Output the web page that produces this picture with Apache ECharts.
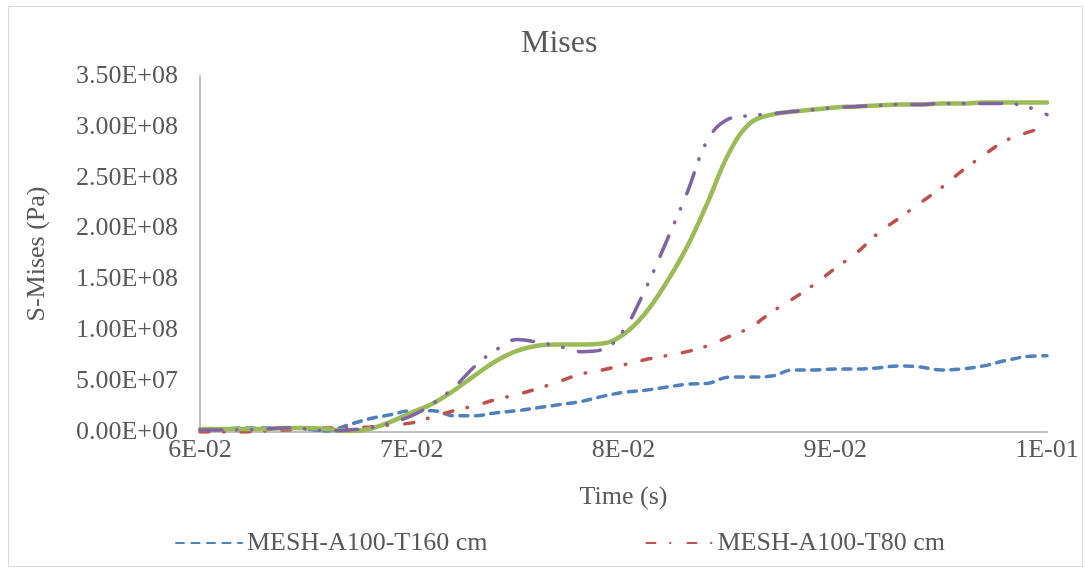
<!DOCTYPE html>
<html>
<head>
<meta charset="utf-8">
<script src="https://cdn.jsdelivr.net/npm/echarts@6/dist/echarts.min.js"></script>
<style>
  html, body { margin: 0; padding: 0; background: #ffffff; }
  #chart { width: 1085px; height: 569px; }
</style>
</head>
<body>
<div id="chart"></div>
<script>
// Time samples (s)
const times = [
  0.060, 0.061, 0.062, 0.063, 0.064, 0.065, 0.066, 0.067, 0.068, 0.069,
  0.070, 0.071, 0.072, 0.073, 0.074, 0.075, 0.076, 0.077, 0.078, 0.079,
  0.080, 0.081, 0.082, 0.083, 0.084, 0.085, 0.086, 0.087, 0.088, 0.089,
  0.090, 0.091, 0.092, 0.093, 0.094, 0.095, 0.096, 0.097, 0.098, 0.099,
  0.100
];

// Von Mises stress, in MPa (scaled to Pa when plotted)
const meshT160 = [
  3, 3, 4, 4, 4, 3, 1, 7, 13, 17,
  21, 21, 16, 16, 19, 21, 24, 27, 30, 35,
  39, 41, 44, 47, 48, 54, 54, 55, 61, 61,
  62, 62, 63, 65, 64, 61, 62, 65, 70, 74,
  75
];
const meshT80 = [
  0, 0, 0, 1, 2, 3, 4, 4, 5, 7,
  9, 15, 21, 26, 32, 37, 43, 50, 57, 61,
  66, 71, 75, 79, 85, 94, 103, 118, 131, 145,
  161, 176, 195, 210, 225, 240, 257, 272, 286, 294,
  300
];
const meshT40 = [
  2, 2, 2, 3, 4, 3, 1, 2, 4, 9,
  16, 28, 44, 65, 81, 91, 88, 84, 79, 81,
  100, 139, 186, 235, 288, 308, 311, 313, 315, 317,
  319, 320, 321, 322, 322, 323, 323, 323, 323, 320,
  312
];
const meshT20 = [
  3, 3, 3, 3, 4, 4, 3, 1, 3, 10,
  19, 28, 41, 56, 70, 80, 85, 86, 86, 87,
  96, 116, 146, 182, 227, 275, 304, 312, 315, 317,
  319, 320, 321, 322, 322, 323, 323, 324, 324, 324,
  324
];

const seriesNames = [
  'MESH-A100-T160 cm',
  'MESH-A100-T80 cm',
  'MESH-A100-T40 cm',
  'MESH-A100-T20 cm'
];

const xTickLabels = ['6E-02', '7E-02', '8E-02', '9E-02', '1E-01'];
const yTickLabels = [
  '0.00E+00', '5.00E+07', '1.00E+08', '1.50E+08',
  '2.00E+08', '2.50E+08', '3.00E+08', '3.50E+08'
];

const toPairs = (vals) => times.map((t, i) => [t, vals[i] * 1e6]);

const FONT = '"Liberation Serif", "Times New Roman", serif';
const TEXT = '#595959';
const AXIS = '#bfbfbf';
const LABEL_SIZE = 26;

const chart = echarts.init(document.getElementById('chart'), null, { renderer: 'canvas' });

chart.setOption({
  backgroundColor: '#ffffff',
  animation: false,
  textStyle: { fontFamily: FONT },
  graphic: [{
    type: 'rect',
    shape: { x: 8.5, y: 6.5, width: 1074, height: 560 },
    style: { fill: 'none', stroke: '#d9d9d9', lineWidth: 1 },
    silent: true
  }],
  title: {
    text: 'Mises',
    left: 521,
    top: 28,
    padding: 0,
    textStyle: { fontFamily: FONT, fontSize: 32, fontWeight: 'normal', color: TEXT }
  },
  legend: {
    data: [seriesNames[0], seriesNames[1]],
    left: 170,
    top: 525,
    itemWidth: 66,
    itemHeight: 12,
    itemGap: 158,
    itemStyle: { opacity: 0 },
    textStyle: { fontFamily: FONT, fontSize: LABEL_SIZE, color: TEXT, padding: [0, 0, 0, 0] }
  },
  grid: { left: 200, right: 38, top: 76, bottom: 137, containLabel: false },
  xAxis: {
    type: 'value',
    min: 0.06,
    max: 0.1,
    interval: 0.01,
    name: 'Time (s)',
    nameLocation: 'middle',
    nameGap: 52,
    nameTextStyle: { fontFamily: FONT, fontSize: LABEL_SIZE, color: TEXT },
    axisLine: { show: true, lineStyle: { color: AXIS, width: 2 } },
    axisTick: { show: false },
    splitLine: { show: false },
    axisLabel: {
      fontFamily: FONT, fontSize: LABEL_SIZE, color: TEXT, margin: 5,
      formatter: (v) => xTickLabels[Math.round((v - 0.06) / 0.01)]
    }
  },
  yAxis: {
    type: 'value',
    min: 0,
    max: 3.5e8,
    interval: 5e7,
    name: 'S-Mises (Pa)',
    nameLocation: 'middle',
    nameGap: 150,
    nameTextStyle: { fontFamily: FONT, fontSize: LABEL_SIZE, color: TEXT },
    axisLine: { show: true, lineStyle: { color: AXIS, width: 2 } },
    axisTick: { show: false },
    splitLine: { show: false },
    axisLabel: {
      fontFamily: FONT, fontSize: LABEL_SIZE, color: TEXT, margin: 22,
      formatter: (v) => yTickLabels[Math.round(v / 5e7)]
    }
  },
  series: [
    {
      name: seriesNames[0], type: 'line', data: toPairs(meshT160),
      smooth: 0.4, showSymbol: false, symbol: 'none', z: 2,
      color: '#4F81BD',
      lineStyle: { color: '#4F81BD', width: 3.5, type: [8, 7.5], cap: 'round' }
    },
    {
      name: seriesNames[1], type: 'line', data: toPairs(meshT80),
      smooth: 0.4, showSymbol: false, symbol: 'none', z: 3,
      color: '#C0504D',
      lineStyle: { color: '#C0504D', width: 3.5, type: [9, 14.5, 0.5, 17], cap: 'round' }
    },
    {
      name: seriesNames[3], type: 'line', data: toPairs(meshT20),
      smooth: 0.4, showSymbol: false, symbol: 'none', z: 4,
      color: '#9BBB59',
      lineStyle: { color: '#9BBB59', width: 4.5, type: 'solid', cap: 'round' }
    },
    {
      name: seriesNames[2], type: 'line', data: toPairs(meshT40),
      smooth: 0.4, showSymbol: false, symbol: 'none', z: 5,
      color: '#8064A2',
      lineStyle: { color: '#8064A2', width: 3.5, type: [22, 14.5, 0.5, 14.5, 0.5, 16], cap: 'round' }
    }
  ]
});
</script>
</body>
</html>
